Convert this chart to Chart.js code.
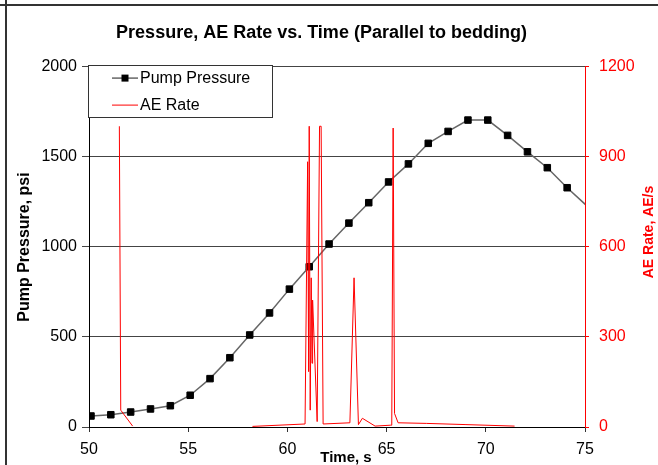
<!DOCTYPE html>
<html>
<head>
<meta charset="utf-8">
<script src="https://cdn.jsdelivr.net/npm/chart.js@4.4.1/dist/chart.umd.min.js"></script>
<style>
  html, body { margin: 0; padding: 0; background: #fff; }
  #wrap { width: 658px; height: 465px; }
</style>
</head>
<body>
<div id="wrap"><canvas id="chart" width="658" height="465"></canvas></div>
<script>
const FONT = "'Liberation Sans', Arial, sans-serif";

/* ===== DATA ===== */

const pressureTime = [50.1, 51.1, 52.1, 53.1, 54.1, 55.1, 56.1, 57.1, 58.1, 59.1,
  60.1, 61.1, 62.1, 63.1, 64.1, 65.1, 66.1, 67.1, 68.1, 69.1,
  70.1, 71.1, 72.1, 73.1, 74.1, 75.1];
const pressurePsi = [61, 68, 83, 100, 118, 176, 268, 384, 510, 632,
  764, 888, 1014, 1130, 1243, 1358, 1458, 1572, 1638, 1701,
  1701, 1616, 1525, 1437, 1326, 1225];

// null = no readings between the two recording windows
const aeTime = [51.53, 51.6, 52.2, 52.3,
  58.24, 60.89, 61.02, 61.07, 61.1, 61.15, 61.2, 61.24, 61.27, 61.5,
  61.62, 61.7, 61.8, 63.15, 63.36, 63.58, 63.78, 64.42, 65.2,
  65.26, 65.33, 65.4, 65.58, 67, 69, 71.45];
const aeRate = [1000, 56, 3, null,
  2, 10, 882, 184, 1000, 56, 496, 212, 422, 18,
  1000, 1000, 10, 14, 496, 8, 29, 3, 6,
  6, 994, 45, 14, 12, 8, 3];

const timeTicks = [50, 55, 60, 65, 70, 75];
const pressureTicks = [0, 500, 1000, 1500, 2000];
const aeTicks = [0, 300, 600, 900, 1200];

const seriesNames = ["Pump Pressure", "AE Rate"];

/* ===== HELPERS ===== */

function toPoints(xs, ys) {
  return xs.map((x, i) => ({ x, y: ys[i] }));
}

function fixedTicks(values) {
  return scale => { scale.ticks = values.map(v => ({ value: v })); };
}

const plainLabel = v => String(v);

/* ===== DECORATION ===== */

const decor = {
  id: "decor",
  beforeDraw(chart) {
    const ctx = chart.ctx;
    ctx.save();
    ctx.fillStyle = "#fff";
    ctx.fillRect(0, 0, chart.width, chart.height);
    ctx.strokeStyle = "#333";
    ctx.lineWidth = 2;
    ctx.beginPath();
    ctx.moveTo(0, 5); ctx.lineTo(chart.width, 5);
    ctx.moveTo(6, 0); ctx.lineTo(6, chart.height);
    ctx.stroke();
    ctx.restore();
  },
  afterDraw(chart) {
    const ctx = chart.ctx;
    const a = chart.chartArea;
    ctx.save();

    // axis titles
    ctx.textAlign = "center";
    ctx.textBaseline = "middle";
    ctx.fillStyle = "#000";
    ctx.font = "bold 15px " + FONT;
    ctx.fillText("Time, s", 346, 458);

    ctx.save();
    ctx.translate(25, 247);
    ctx.rotate(-Math.PI / 2);
    ctx.font = "bold 16px " + FONT;
    ctx.fillText("Pump Pressure, psi", 0, 0);
    ctx.restore();

    ctx.save();
    ctx.translate(649, 232);
    ctx.rotate(-Math.PI / 2);
    ctx.fillStyle = "#ff0000";
    ctx.font = "bold 14px " + FONT;
    ctx.fillText("AE Rate, AE/s", 0, 0);
    ctx.restore();

    // legend box inside plot area
    const lx = Math.round(a.left) - 0.5;
    const ly = Math.round(a.top) - 0.5;
    ctx.fillStyle = "#fff";
    ctx.fillRect(lx, ly, 184, 52);
    ctx.strokeStyle = "#333";
    ctx.lineWidth = 1;
    ctx.strokeRect(lx, ly, 184, 52);

    const sx0 = a.left + 23, sx1 = a.left + 49;
    const rows = [a.top + 12, a.top + 39];

    ctx.strokeStyle = "#666";
    ctx.lineWidth = 1.5;
    ctx.beginPath();
    ctx.moveTo(sx0, rows[0]); ctx.lineTo(sx1, rows[0]);
    ctx.stroke();
    ctx.fillStyle = "#000";
    ctx.fillRect((sx0 + sx1) / 2 - 3.5, rows[0] - 3.5, 7, 7);

    ctx.strokeStyle = "#ff0000";
    ctx.lineWidth = 1;
    ctx.beginPath();
    ctx.moveTo(sx0, rows[1]); ctx.lineTo(sx1, rows[1]);
    ctx.stroke();

    ctx.fillStyle = "#000";
    ctx.textAlign = "left";
    ctx.font = "16px " + FONT;
    ctx.fillText(seriesNames[0], a.left + 51, rows[0]);
    ctx.fillText(seriesNames[1], a.left + 51, rows[1]);

    ctx.restore();
  }
};

/* ===== CHART ===== */

new Chart(document.getElementById("chart"), {
  type: "scatter",
  data: {
    datasets: [
      {
        label: seriesNames[0],
        data: toPoints(pressureTime, pressurePsi),
        yAxisID: "y",
        showLine: true,
        borderColor: "#666",
        borderWidth: 1.5,
        pointStyle: "rect",
        pointRadius: c => (c.raw && c.raw.x > 75 ? 0 : 4.6),
        pointBackgroundColor: "#000",
        pointBorderColor: "#000",
        pointBorderWidth: 1,
        order: 2
      },
      {
        label: seriesNames[1],
        data: toPoints(aeTime, aeRate),
        yAxisID: "y1",
        showLine: true,
        spanGaps: false,
        borderColor: "#ff0000",
        borderWidth: 1,
        pointRadius: 0,
        order: 1
      }
    ]
  },
  options: {
    responsive: false,
    animation: false,
    layout: { padding: { left: 0, right: 15, top: 0, bottom: 0 } },
    plugins: {
      legend: { display: false },
      tooltip: { enabled: false },
      title: {
        display: true,
        text: "Pressure, AE Rate vs. Time (Parallel to bedding)",
        color: "#000",
        font: { family: FONT, size: 18, weight: "bold" },
        padding: { top: 22, bottom: 22.5 }
      }
    },
    scales: {
      x: {
        type: "linear",
        min: 50, max: 75,
        afterBuildTicks: fixedTicks(timeTicks),
        afterFit: s => { s.height = 38; },
        ticks: { color: "#000", font: { family: FONT, size: 16 }, padding: 8, maxRotation: 0, autoSkip: false, callback: plainLabel },
        grid: { drawOnChartArea: false, drawTicks: true, tickLength: 5, color: "#333" },
        border: { color: "#000", width: 1 }
      },
      y: {
        position: "left",
        min: 0, max: 2000,
        afterBuildTicks: fixedTicks(pressureTicks),
        afterFit: s => { s.width = 89; },
        ticks: { color: "#000", font: { family: FONT, size: 16 }, padding: 5, callback: plainLabel },
        grid: { color: "#444", lineWidth: 1, tickLength: 7 },
        border: { color: "#000", width: 1 }
      },
      y1: {
        position: "right",
        min: 0, max: 1200,
        afterBuildTicks: fixedTicks(aeTicks),
        afterFit: s => { s.width = 58; },
        ticks: { color: "#ff0000", font: { family: FONT, size: 16 }, padding: 10, callback: plainLabel },
        grid: { drawOnChartArea: false, color: "#ff0000", tickLength: 4 },
        border: { color: "#ff0000", width: 1 }
      }
    }
  },
  plugins: [decor]
});
</script>
</body>
</html>
